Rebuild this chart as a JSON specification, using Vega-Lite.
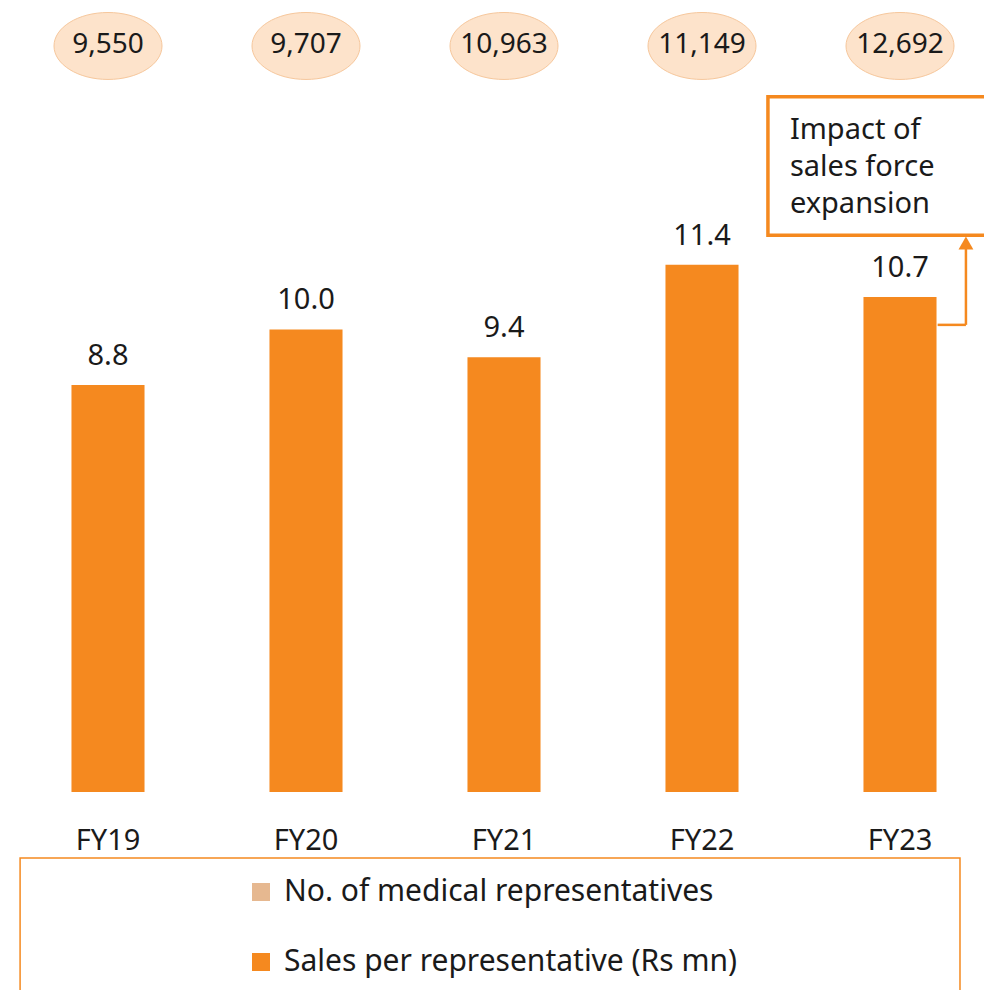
{
  "$schema": "https://vega.github.io/schema/vega-lite/v6.json",
  "width": 984,
  "height": 990,
  "autosize": {"type": "none"},
  "padding": 0,
  "background": "white",
  "config": {"view": {"stroke": null}, "font": "Noto Sans", "text": {"font": "Noto Sans", "color": "#1a1a1a"}},
  "data": {"values": [
    {"year": "FY19", "sales": 8.8, "reps": 9550, "series": "Sales per representative (Rs mn)"},
    {"year": "FY20", "sales": 10.0, "reps": 9707, "series": "Sales per representative (Rs mn)"},
    {"year": "FY21", "sales": 9.4, "reps": 10963, "series": "Sales per representative (Rs mn)"},
    {"year": "FY22", "sales": 11.4, "reps": 11149, "series": "Sales per representative (Rs mn)"},
    {"year": "FY23", "sales": 10.7, "reps": 12692, "series": "Sales per representative (Rs mn)"}
  ]},
  "encoding": {
    "x": {"field": "year", "type": "nominal", "sort": null, "scale": {"type": "band", "domain": ["FY19", "FY20", "FY21", "FY22", "FY23"], "range": [9, 999], "paddingInner": 0, "paddingOuter": 0}, "axis": null}
  },
  "layer": [
    {
      "data": {"values": [{}]},
      "mark": {"type": "rect", "fillOpacity": 0, "fill": "white", "stroke": "#F5891F", "strokeWidth": 1.5},
      "encoding": {
        "x": {"datum": "FY19", "type": "nominal", "bandPosition": 0.056},
        "x2": {"datum": "FY23", "bandPosition": 0.803},
        "y": {"datum": -1.427, "type": "quantitative", "scale": {"domain": [-4.281, 17.124], "nice": false, "zero": false}, "axis": null},
        "y2": {"datum": -4.6}
      }
    },
    {
      "data": {"values": [{}]},
      "mark": {"type": "rule", "color": "#A6A6A6", "strokeWidth": 2},
      "encoding": {
        "y": {"datum": 0, "type": "quantitative", "scale": {"domain": [-4.281, 17.124], "nice": false, "zero": false}, "axis": null}
      }
    },
    {
      "mark": {"type": "bar", "width": {"band": 0.369}},
      "encoding": {
        "y": {"field": "sales", "type": "quantitative", "scale": {"domain": [-4.281, 17.124], "nice": false, "zero": false}, "axis": null},
        "y2": {"datum": 0},
        "color": {
          "field": "series", "type": "nominal",
          "scale": {
            "domain": ["No. of medical representatives", "Sales per representative (Rs mn)"],
            "range": ["#E6B890", "#F5891F"]
          },
          "legend": {
            "orient": "none", "legendX": 246, "legendY": 877, "title": null,
            "symbolType": "square", "symbolSize": 324, "symbolStrokeWidth": 0,
            "labelFontSize": 30, "labelFont": "Noto Sans", "labelColor": "#1a1a1a",
            "rowPadding": 40, "labelOffset": 8, "padding": 0, "labelLimit": 600
          }
        }
      }
    },
    {
      "mark": {"type": "text", "fontSize": 29, "baseline": "alphabetic", "dy": -20},
      "encoding": {
        "y": {"field": "sales", "type": "quantitative", "scale": {"domain": [-4.281, 17.124], "nice": false, "zero": false}, "axis": null},
        "text": {"field": "sales", "type": "quantitative", "format": ".1f"}
      }
    },
    {
      "mark": {"type": "point", "shape": "M -1 0 A 1 0.62 0 1 0 1 0 A 1 0.62 0 1 0 -1 0 Z", "size": 11664, "filled": true, "fill": "#FDE3CB", "stroke": "#F6C79C", "strokeWidth": 1, "opacity": 1},
      "encoding": {
        "y": {"datum": 16.13, "type": "quantitative", "scale": {"domain": [-4.281, 17.124], "nice": false, "zero": false}, "axis": null}
      }
    },
    {
      "mark": {"type": "text", "fontSize": 28, "baseline": "middle"},
      "encoding": {
        "y": {"datum": 16.15, "type": "quantitative", "scale": {"domain": [-4.281, 17.124], "nice": false, "zero": false}, "axis": null},
        "text": {"field": "reps", "type": "quantitative", "format": ",d"}
      }
    },
    {
      "mark": {"type": "text", "fontSize": 29, "baseline": "middle"},
      "encoding": {
        "y": {"datum": -1.05, "type": "quantitative", "scale": {"domain": [-4.281, 17.124], "nice": false, "zero": false}, "axis": null},
        "text": {"field": "year", "type": "nominal"}
      }
    },
    {
      "data": {"values": [{}]},
      "mark": {"type": "rect", "fill": "white", "stroke": "#F5891F", "strokeWidth": 3.5},
      "encoding": {
        "x": {"datum": "FY22", "type": "nominal", "bandPosition": 0.833},
        "x2": {"datum": "FY23", "bandPosition": 1},
        "y": {"datum": 15.03, "type": "quantitative", "scale": {"domain": [-4.281, 17.124], "nice": false, "zero": false}, "axis": null},
        "y2": {"datum": 12.04}
      }
    },
    {
      "data": {"values": [{}]},
      "mark": {"type": "text", "text": "Impact of\nsales force\nexpansion", "lineBreak": "\n", "lineHeight": 37, "fontSize": 29, "align": "left", "baseline": "middle"},
      "encoding": {
        "x": {"datum": "FY22", "type": "nominal", "bandPosition": 0.944},
        "y": {"datum": 14.31, "type": "quantitative", "scale": {"domain": [-4.281, 17.124], "nice": false, "zero": false}, "axis": null}
      }
    },
    {
      "data": {"values": [{}]},
      "mark": {"type": "rule", "color": "#F5891F", "strokeWidth": 2.5},
      "encoding": {
        "x": {"datum": "FY23", "type": "nominal", "bandPosition": 0.69},
        "x2": {"datum": "FY23", "bandPosition": 0.833},
        "y": {"datum": 10.1, "type": "quantitative", "scale": {"domain": [-4.281, 17.124], "nice": false, "zero": false}, "axis": null}
      }
    },
    {
      "data": {"values": [{}]},
      "mark": {"type": "rule", "color": "#F5891F", "strokeWidth": 2.5},
      "encoding": {
        "x": {"datum": "FY23", "type": "nominal", "bandPosition": 0.833},
        "y": {"datum": 10.1, "type": "quantitative", "scale": {"domain": [-4.281, 17.124], "nice": false, "zero": false}, "axis": null},
        "y2": {"datum": 11.75}
      }
    },
    {
      "data": {"values": [{}]},
      "mark": {"type": "point", "shape": "triangle-up", "size": 220, "filled": true, "color": "#F5891F", "opacity": 1},
      "encoding": {
        "x": {"datum": "FY23", "type": "nominal", "bandPosition": 0.833},
        "y": {"datum": 11.87, "type": "quantitative", "scale": {"domain": [-4.281, 17.124], "nice": false, "zero": false}, "axis": null}
      }
    }
  ]
}
